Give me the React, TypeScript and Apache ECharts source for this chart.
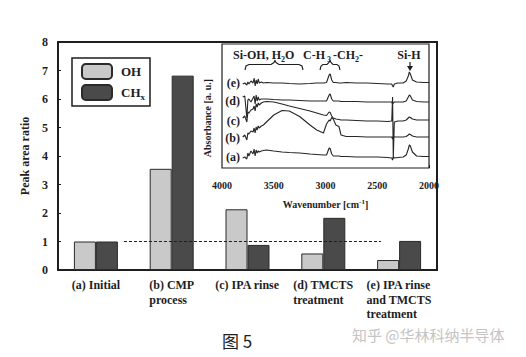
import React, { useEffect, useRef } from "react";
import * as echarts from "echarts";

// ---- main bar chart data ----
const categories = [
  "(a) Initial",
  "(b) CMP\nprocess",
  "(c) IPA rinse",
  "(d) TMCTS\ntreatment",
  "(e) IPA rinse\nand TMCTS\ntreatment",
];
const ohValues = [1.0, 3.55, 2.13, 0.58, 0.35];
const chValues = [1.0, 6.82, 0.88, 1.83, 1.02];
const yMin = 0;
const yMax = 8;
const yStep = 1;
// dashed reference line (in category units along x, ratio on y)
const refLevel = 1;
const refFrom = 0.87;
const refTo = 4.26;

// ---- inset FTIR spectra (absorbance in arbitrary units, offset per curve) ----
const insetTicks = [4000, 3500, 3000, 2500, 2000];
const wavenumbers = [
  3800, 3780, 3760, 3750, 3740, 3720, 3700, 3690, 3680, 3670, 3660, 3650, 3640, 3620, 3600, 3570,
  3500, 3420, 3350, 3250, 3150, 3085, 3020, 2990, 2965, 2955, 2940, 2925, 2900, 2870, 2850, 2800,
  2700, 2600, 2500, 2400, 2360, 2352, 2345, 2335, 2300, 2250, 2220, 2200, 2190, 2180, 2160, 2120,
  2050, 2000,
];
const specE = [
  84, 85, 83, 86, 84, 87, 85, 90, 82, 88, 84, 89, 85, 86, 85, 85.5, 85, 85, 84.5, 84, 84.5, 85, 85,
  85.5, 93, 94, 88, 85.5, 85.5, 85, 85, 85.5, 85, 85, 84.5, 84, 84, 82, 81, 84, 85, 85, 87, 92, 96,
  94, 88, 86, 85.5, 85.5,
];
const specD = [
  71, 72, 50, 68, 69, 66, 70, 72, 64, 73, 67, 71, 68, 69, 69, 69, 68.5, 68, 68, 67.5, 67, 67, 67,
  67, 73, 74, 69, 67, 67, 67, 66.5, 66.5, 66.5, 66, 66, 66, 66, 64, 65, 66, 66, 66, 67, 71, 73, 72,
  68, 66.5, 66, 66,
];
const specC = [
  50, 52, 46, 56, 55, 58, 59, 62, 57, 64, 61, 65, 63, 65, 66, 66.5, 66, 64, 62, 59.5, 57, 55, 53,
  52.5, 56, 55.5, 52, 50, 49, 48.5, 48, 48, 47.5, 47, 47, 46.5, 47, 71, 10, 46, 47, 47, 48, 50, 51,
  50.5, 49, 48, 48, 48,
];
const specB = [
  31, 33, 28, 35, 34, 37, 36, 40, 35, 41, 38, 42, 40, 42, 43, 46, 53, 57.5, 57, 51.5, 43, 38, 35,
  44, 48, 47, 50.5, 49, 43, 41.5, 33, 31.5, 31.5, 31, 31, 31, 31, 29, 32, 31, 31, 31, 31.5, 33, 34,
  33.5, 32, 31, 31, 31,
];
const specA = [
  10, 11, 9, 15, 12, 17, 14, 19, 12, 18, 15, 17, 16, 17, 17.5, 18, 17, 16, 15.5, 15, 14, 13.5, 13,
  13, 20, 19.5, 14, 12, 12, 12, 11.5, 11.5, 11, 11, 11, 10.5, 10, 8, 11, 10, 10.5, 11, 13, 19, 23,
  22, 16, 12, 11.5, 11.5,
];
const spectrumLabels = ["(a)", "(b)", "(c)", "(d)", "(e)"];

const SERIF = "'Liberation Serif', 'Times New Roman', serif";
const INK = "#1e1e1e";

export default function App() {
  const ref = useRef<HTMLDivElement>(null);

  useEffect(() => {
    if (!ref.current) return;
    const chart = echarts.init(ref.current, undefined, { renderer: "svg" });

    const spectra = [specA, specB, specC, specD, specE];
    const labelY = [157, 137.5, 121, 101, 82.5];

    const bold = (size: number) => ({
      fontFamily: SERIF,
      fontWeight: 700,
      fontSize: size,
      fill: INK,
    });

    const graphics: any[] = [
      ...spectrumLabels.map((t, i) => ({
        type: "text",
        x: 240,
        y: labelY[i],
        z: 100,
        style: { text: t, ...bold(12), align: "right", verticalAlign: "middle" },
      })),
      {
        type: "text",
        x: 207,
        y: 118,
        rotation: Math.PI / 2,
        z: 100,
        style: {
          text: "Absorbance [a. u.]",
          ...bold(10),
          align: "center",
          verticalAlign: "middle",
        },
      },
      {
        type: "text",
        x: 233,
        y: 55,
        z: 100,
        style: {
          text: "{a|Si-OH, H}{s|2}{a|O}",
          align: "left",
          verticalAlign: "middle",
          rich: {
            a: { ...bold(12) },
            s: { ...bold(8), padding: [8, 0, 0, 0] },
          },
        },
      },
      {
        type: "text",
        x: 303,
        y: 55,
        z: 100,
        style: {
          text: "{a|C-H}{s| 3 }{a|-CH}{s|2}{a|-}",
          align: "left",
          verticalAlign: "middle",
          rich: {
            a: { ...bold(12) },
            s: { ...bold(8), padding: [8, 0, 0, 0] },
          },
        },
      },
      {
        type: "text",
        x: 409,
        y: 55,
        z: 100,
        style: { text: "Si-H", ...bold(12), align: "center", verticalAlign: "middle" },
      },
      {
        type: "polyline",
        z: 100,
        shape: {
          points: [
            [245, 70],
            [246, 66],
            [249, 64.5],
            [271, 64.5],
            [274, 62.5],
            [275, 60.5],
            [276, 62.5],
            [279, 64.5],
            [299, 64.5],
            [302, 66],
            [303, 70],
          ],
        },
        style: { stroke: INK, lineWidth: 1.1, fill: "none" },
      },
      {
        type: "polyline",
        z: 100,
        shape: {
          points: [
            [320, 70],
            [321, 66],
            [323, 64.5],
            [327, 64.5],
            [329, 62.5],
            [330, 60.5],
            [331, 62.5],
            [333, 64.5],
            [337, 64.5],
            [339, 66],
            [340, 70],
          ],
        },
        style: { stroke: INK, lineWidth: 1.1, fill: "none" },
      },
      {
        type: "line",
        z: 100,
        shape: { x1: 410, y1: 62, x2: 410, y2: 68 },
        style: { stroke: INK, lineWidth: 1.2 },
      },
      {
        type: "polygon",
        z: 100,
        shape: {
          points: [
            [407, 66],
            [413, 66],
            [410, 71],
          ],
        },
        style: { fill: INK },
      },
      {
        type: "text",
        x: 237,
        y: 340,
        z: 100,
        style: {
          text: "图 5",
          fontFamily: "'Noto Sans CJK SC', sans-serif",
          fontSize: 17,
          fill: "#222",
          align: "center",
          verticalAlign: "middle",
        },
      },
      {
        type: "text",
        x: 352,
        y: 334,
        z: 100,
        style: {
          text: "知乎 @华林科纳半导体",
          fontFamily: "'Noto Sans CJK SC', sans-serif",
          fontSize: 15,
          fill: "#c4c4c4",
          align: "left",
          verticalAlign: "middle",
        },
      },
    ];

    const option: any = {
      animation: false,
      backgroundColor: "#fff",
      grid: [
        {
          left: 58,
          top: 42,
          right: 89,
          bottom: 87,
          show: true,
          borderColor: INK,
          borderWidth: 2,
          backgroundColor: "#fff",
        },
        {
          left: 222,
          top: 44,
          width: 207,
          height: 124,
          show: true,
          borderColor: INK,
          borderWidth: 1.2,
          backgroundColor: "#fff",
          z: 5,
        },
      ],
      legend: {
        left: 72,
        top: 58,
        orient: "vertical",
        itemWidth: 30,
        itemHeight: 15,
        itemGap: 4,
        padding: [5, 5, 5, 9],
        borderColor: INK,
        borderWidth: 1.5,
        backgroundColor: "#fff",
        data: ["OH", "CHx"],
        formatter: (name: string) => (name === "CHx" ? "{a|CH}{s|x}" : "{a|OH}"),
        textStyle: {
          padding: [0, 0, 0, 4],
          rich: {
            a: { fontFamily: SERIF, fontWeight: 700, fontSize: 13, color: INK },
            s: {
              fontFamily: SERIF,
              fontWeight: 700,
              fontSize: 9,
              color: INK,
              padding: [8, 0, 0, 0],
            },
          },
        },
      },
      xAxis: [
        {
          type: "category",
          gridIndex: 0,
          data: categories,
          axisLine: { lineStyle: { color: INK, width: 2 } },
          axisTick: { inside: true, length: 4, lineStyle: { color: INK } },
          axisLabel: {
            interval: 0,
            margin: 8,
            formatter: (v: string) =>
              v
                .split("\n")
                .map((s) => `{l|${s}}`)
                .join("\n"),
            rich: {
              l: {
                align: "left",
                fontFamily: SERIF,
                fontWeight: 700,
                fontSize: 12,
                lineHeight: 14.5,
                color: INK,
              },
            },
          },
          splitLine: { show: false },
        },
        {
          type: "value",
          gridIndex: 0,
          min: 0,
          max: categories.length,
          show: false,
        },
        {
          type: "value",
          gridIndex: 1,
          min: 2000,
          max: 4000,
          interval: 500,
          inverse: true,
          axisLine: { show: false },
          axisTick: { inside: true, length: 3, lineStyle: { color: INK } },
          axisLabel: {
            margin: 12,
            fontFamily: SERIF,
            fontWeight: 700,
            fontSize: 10,
            color: INK,
            customValues: insetTicks,
            formatter: (v: number) => String(v),
          },
          splitLine: { show: false },
          name: "{a|Wavenumber [cm}{s|-1}{a|]}",
          nameLocation: "middle",
          nameGap: 30,
          nameTextStyle: {
            rich: {
              a: { fontFamily: SERIF, fontWeight: 700, fontSize: 10, color: INK },
              s: {
                fontFamily: SERIF,
                fontWeight: 700,
                fontSize: 7,
                color: INK,
                padding: [0, 0, 6, 0],
              },
            },
          },
        },
      ],
      yAxis: [
        {
          type: "value",
          gridIndex: 0,
          min: yMin,
          max: yMax,
          interval: yStep,
          axisLine: { show: true, lineStyle: { color: INK, width: 2 } },
          axisTick: { show: true, inside: true, length: 3, lineStyle: { color: INK } },
          axisLabel: {
            margin: 10,
            fontFamily: SERIF,
            fontWeight: 700,
            fontSize: 12,
            color: INK,
          },
          splitLine: { show: false },
          name: "Peak area ratio",
          nameLocation: "middle",
          nameGap: 24,
          nameRotate: 90,
          nameTextStyle: {
            fontFamily: SERIF,
            fontWeight: 700,
            fontSize: 12,
            color: INK,
          },
        },
        {
          type: "value",
          gridIndex: 1,
          min: 0,
          max: 124,
          show: false,
        },
      ],
      series: [
        {
          name: "OH",
          type: "bar",
          xAxisIndex: 0,
          yAxisIndex: 0,
          data: ohValues,
          barWidth: 22,
          barGap: "0%",
          itemStyle: { color: "#c9c9c9", borderColor: "#2a2a2a", borderWidth: 1 },
        },
        {
          name: "CHx",
          type: "bar",
          xAxisIndex: 0,
          yAxisIndex: 0,
          data: chValues,
          barWidth: 22,
          barGap: "0%",
          itemStyle: { color: "#4a4a4a", borderColor: "#2a2a2a", borderWidth: 1 },
        },
        {
          name: "ref",
          type: "line",
          xAxisIndex: 1,
          yAxisIndex: 0,
          data: [
            [refFrom, refLevel],
            [refTo, refLevel],
          ],
          symbol: "none",
          silent: true,
          lineStyle: { color: INK, width: 1.2, type: [3, 2] },
        },
        ...spectra.map((s, i) => ({
          name: "spec" + i,
          type: "line",
          xAxisIndex: 2,
          yAxisIndex: 1,
          z: 10,
          data: wavenumbers.map((w, j) => [w, s[j]]),
          symbol: "none",
          silent: true,
          lineStyle: { color: "#262626", width: 1.1 },
        })),
      ],
      graphic: graphics,
    };

    chart.setOption(option);
    return () => chart.dispose();
  }, []);

  return (
    <div
      ref={ref}
      style={{ position: "fixed", left: 0, top: 0, width: 526, height: 357 }}
    />
  );
}
